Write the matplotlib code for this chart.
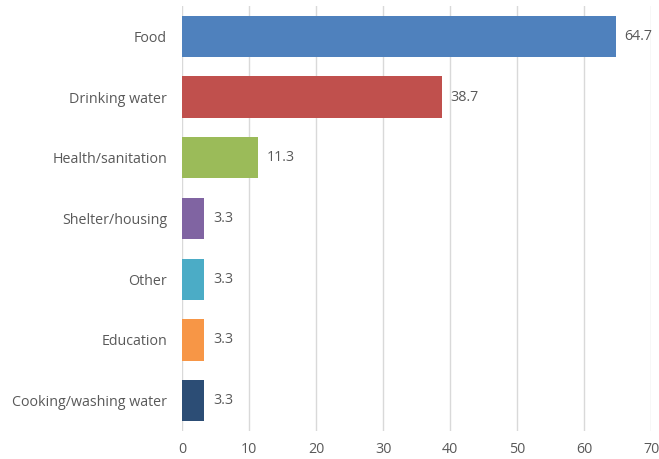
import matplotlib
matplotlib.use("Agg")
import matplotlib.pyplot as plt

categories = ["Food", "Drinking water", "Health/sanitation", "Shelter/housing",
              "Other", "Education", "Cooking/washing water"]
values = [64.7, 38.7, 11.3, 3.3, 3.3, 3.3, 3.3]
colors = ["#4F81BD", "#C0504D", "#9BBB59", "#8064A2", "#4BACC6", "#F79646", "#2C4D75"]
xticks = [0, 10, 20, 30, 40, 50, 60, 70]

plt.rcParams["font.family"] = ["Open Sans", "DejaVu Sans"]
text_color = "#595959"

fig = plt.figure(figsize=(6.59, 4.59), dpi=100)
ax = fig.add_axes([0.2766, 0.0610, 0.7117, 0.9259])

ypos = list(range(len(categories)))
ax.barh(ypos, values, height=0.68, color=colors, zorder=3)

for y, v in zip(ypos, values):
    ax.text(v + 1.3, y, f"{v:.1f}", va="center", ha="left", fontsize=10.3, color=text_color)

ax.set_yticks(ypos)
ax.set_yticklabels(categories, fontsize=10.3, color=text_color)
ax.set_ylim(len(categories) - 0.5, -0.5)
ax.set_xlim(0, 70)
ax.set_xticks(xticks)
ax.set_xticklabels([str(t) for t in xticks], fontsize=10.3, color=text_color)

ax.grid(axis="x", color="#D9D9D9", linewidth=1, zorder=0)
for s in ax.spines.values():
    s.set_visible(False)
ax.tick_params(axis="both", length=0)
ax.tick_params(axis="y", pad=11)
ax.tick_params(axis="x", pad=8)

plt.savefig("out.png", dpi=100)
